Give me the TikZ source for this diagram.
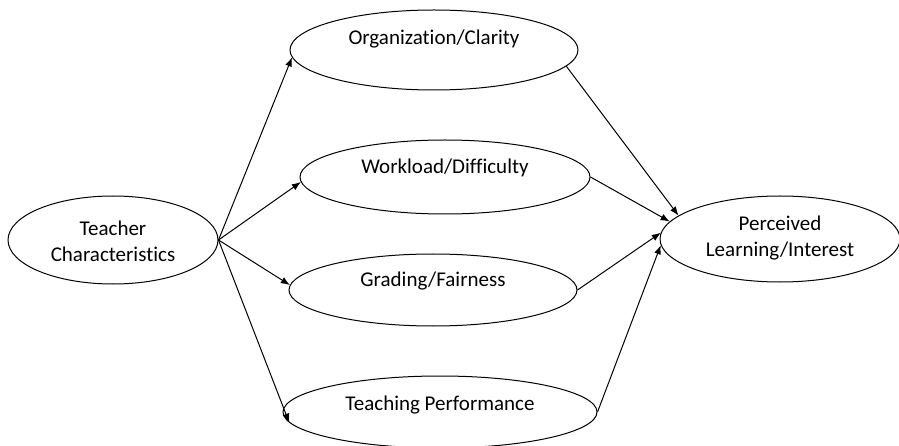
\documentclass[tikz,border=0pt]{standalone}
\usepackage{fontspec}
\setmainfont{Carlito}[Ligatures=NoCommon]
\usetikzlibrary{arrows.meta,shapes.geometric}
\begin{document}
\begin{tikzpicture}[x=1pt,y=-1pt,
  ell/.style={draw, ellipse, line width=1pt, inner sep=0pt},
  txt/.style={font=\fontsize{21}{26}\selectfont, align=center, inner sep=0pt},
  arr/.style={draw, line width=1pt, -{Latex[length=9pt,width=7pt]}}]
\useasboundingbox (0,0) rectangle (899,446);
\node[ell, minimum width=210pt, minimum height=88pt] (teacher) at (113,240) {};
\node[ell, minimum width=288pt, minimum height=80pt] (org) at (434,50) {};
\node[ell, minimum width=290pt, minimum height=74pt] (work) at (445,177) {};
\node[ell, minimum width=288pt, minimum height=72pt] (grad) at (433,290) {};
\node[ell, minimum width=314pt, minimum height=72pt] (teach) at (440,412) {};
\node[ell, minimum width=240pt, minimum height=86pt] (perc) at (780,239) {};
\node[txt] (teachert) at (113,241) {Teacher\\Characteristics};
\node[txt] (orgt) at (434,39) {Organization/Clarity};
\node[txt] (workt) at (445,168) {Workload/Difficulty};
\node[txt] (gradt) at (433,281) {Grading/Fairness};
\node[txt] (teacht) at (440,405) {Teaching Performance};
\node[txt] (perct) at (780,238) {Perceived\\Learning/Interest};
\draw[arr] (teacher.east) -- (org.183);
\draw[arr] (teacher.east) -- (work.182);
\draw[arr] (teacher.east) -- (grad.178);
\draw[arr] (teacher.east) -- (teach.184);
\draw[arr] (org.353) -- (perc.167);
\draw[arr] (work.east) -- (perc.171);
\draw[arr] (grad.east) -- (perc.177);
\draw[arr] (teach.east) -- (perc.183);
\end{tikzpicture}
\end{document}
